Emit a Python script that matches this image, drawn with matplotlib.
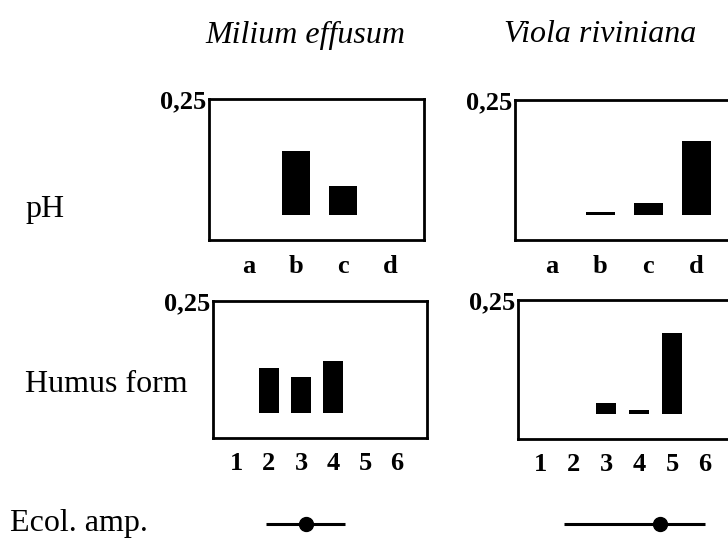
import matplotlib
matplotlib.use("Agg")
from matplotlib import pyplot as plt

plt.rcParams["font.family"] = ["Liberation Serif", "DejaVu Serif"]

species = ["Milium effusum", "Viola riviniana"]

ph_classes = ["a", "b", "c", "d"]
ph_milium = [0.0, 0.137, 0.062, 0.0]
ph_viola = [0.0, 0.007, 0.026, 0.160]

humus_classes = ["1", "2", "3", "4", "5", "6"]
humus_milium = [0.0, 0.100, 0.081, 0.117, 0.0, 0.0]
humus_viola = [0.0, 0.0, 0.024, 0.007, 0.177, 0.0]

# ecological amplitude: (start, optimum, end) on the humus form scale
amp_milium = (1.91, 3.16, 4.38)
amp_viola = (1.72, 4.64, 6.0)

W, H = 728, 540
fig = plt.figure(figsize=(W / 100, H / 100), dpi=100)


def box(x0, x1, y0, y1):
    # pixel box (from top-left) -> figure fraction rect
    return [x0 / W, 1 - y1 / H, (x1 - x0) / W, (y1 - y0) / H]


def panel(rect, labels, values, xlim, ylim, pad):
    ax = fig.add_axes(rect)
    xs = list(range(1, len(labels) + 1))
    ax.bar(xs, values, width=0.6, color="black")
    ax.set_xlim(*xlim)
    ax.set_ylim(*ylim)
    ax.set_xticks(xs)
    ax.set_xticklabels(labels, fontweight="bold", fontsize=19)
    ax.set_yticks([0.25])
    ax.set_yticklabels(["0,25"], fontweight="bold", fontsize=19)
    ax.tick_params(axis="x", length=0, pad=pad)
    ax.tick_params(axis="y", length=0, pad=2)
    for s in ax.spines.values():
        s.set_linewidth(2)
    return ax


ph_lim = (-0.055, 0.25)
hu_lim = (-0.056, 0.25)

panel(box(209, 424, 99, 240), ph_classes, ph_milium, (0.15, 4.72), ph_lim, 11)
panel(box(515, 730, 100, 240), ph_classes, ph_viola, (0.23, 4.7), ph_lim, 11)
panel(box(213, 427, 301, 438), humus_classes, humus_milium, (0.25, 6.94), hu_lim, 10)
panel(box(518, 732, 300, 439), humus_classes, humus_viola, (0.33, 6.82), hu_lim, 10)

for rect, xlim, amp in [(box(213, 427, 510, 538), (0.25, 6.94), amp_milium),
                        (box(518, 732, 510, 538), (0.33, 6.82), amp_viola)]:
    ax = fig.add_axes(rect)
    start, opt, end = amp
    ax.plot([start, end], [0, 0], color="black", lw=2.2, solid_capstyle="butt")
    ax.plot([opt], [0], marker="o", ms=10, color="black")
    ax.set_xlim(*xlim)
    ax.set_ylim(-1, 1)
    ax.axis("off")

fig.text(305 / W, 1 - 35 / H, species[0], style="italic", fontsize=23,
         ha="center", va="center")
fig.text(600 / W, 1 - 35 / H, species[1], style="italic", fontsize=23,
         ha="center", va="center")

fig.text(25 / W, 1 - 210 / H, "pH", fontsize=23, ha="left", va="center")
fig.text(25 / W, 1 - 384 / H, "Humus form", fontsize=23, ha="left", va="center")
fig.text(10 / W, 1 - 524 / H, "Ecol. amp.", fontsize=23, ha="left", va="center")

fig.savefig("out.png", dpi=100)
